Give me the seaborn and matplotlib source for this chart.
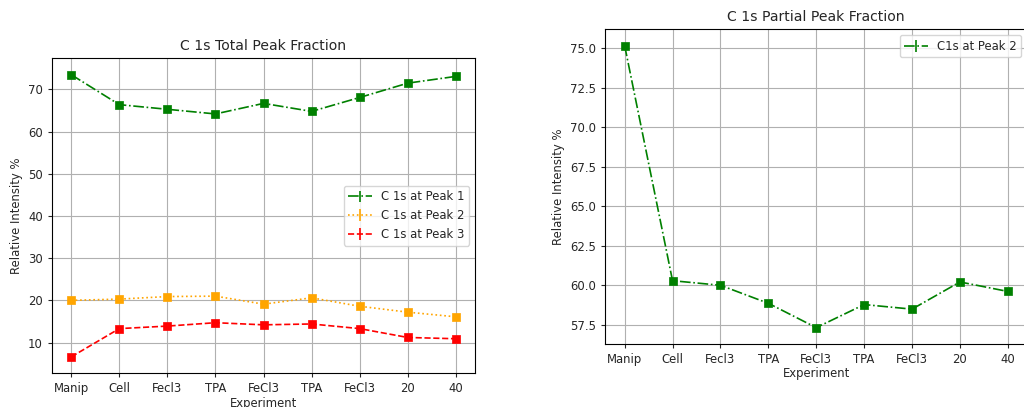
import matplotlib
matplotlib.use("Agg")
import matplotlib.pyplot as plt
import numpy as np
import seaborn as sns

# Données
experiments = ["Manip", "Cell", "Fecl3", "TPA", "FeCl3", "TPA", "FeCl3", "20", "40"]
peak1 = [73.5, 66.4, 65.3, 64.2, 66.7, 64.8, 68.1, 71.5, 73.1]
peak2 = [20.0, 20.3, 20.9, 21.0, 19.1, 20.6, 18.6, 17.2, 16.1]
peak3 = [6.6, 13.3, 13.9, 14.7, 14.2, 14.4, 13.3, 11.2, 10.9]
partial_peak2 = [75.15, 60.28, 59.99, 58.85, 57.31, 58.77, 58.48, 60.20, 59.60]

sns.reset_orig()
sns.set_style("white", {"axes.grid": True, "grid.color": "#b0b0b0",
                        "axes.edgecolor": "black", "xtick.bottom": True,
                        "ytick.left": True})
plt.rcParams["font.family"] = ["DejaVu Sans"]
fs = 8.4

fig = plt.figure(figsize=(10.24, 4.07), dpi=100)
ax1 = fig.add_axes([0.0508, 0.0828, 0.4131, 0.7740])
ax2 = fig.add_axes([0.5913, 0.1548, 0.4116, 0.7732])

x = np.arange(len(experiments))

def courbe(ax, y, err, style, color, label):
    ax.errorbar(x, y, yerr=err, fmt=style, color=color, label=label,
                linewidth=1.2, elinewidth=1.2)
    sns.scatterplot(x=x, y=y, ax=ax, marker="s", s=30, color=color,
                    edgecolor=color, linewidth=0.5, zorder=3)

courbe(ax1, peak1, 0.5, "-.", "green", "C 1s at Peak 1")
courbe(ax1, peak2, 0.5, ":", "orange", "C 1s at Peak 2")
courbe(ax1, peak3, 0.5, "--", "red", "C 1s at Peak 3")
ax1.set_title("C 1s Total Peak Fraction", fontsize=10.1)
ax1.legend(loc="center right", fontsize=fs)

courbe(ax2, partial_peak2, 0.13, "-.", "green", "C1s at Peak 2")
ax2.set_title("C 1s Partial Peak Fraction", fontsize=10.1)
ax2.legend(loc="upper right", fontsize=fs)

for ax in (ax1, ax2):
    ax.set_xticks(x)
    ax.set_xticklabels(experiments)
    ax.set_xlabel("Experiment", fontsize=fs, labelpad=1)
    ax.set_ylabel("Relative Intensity %", fontsize=fs)
    ax.tick_params(labelsize=fs, length=3)
    ax.grid(True, color="#b0b0b0", linewidth=0.8)
    for s in ax.spines.values():
        s.set_linewidth(0.8)

fig.savefig("out.png", dpi=100)
